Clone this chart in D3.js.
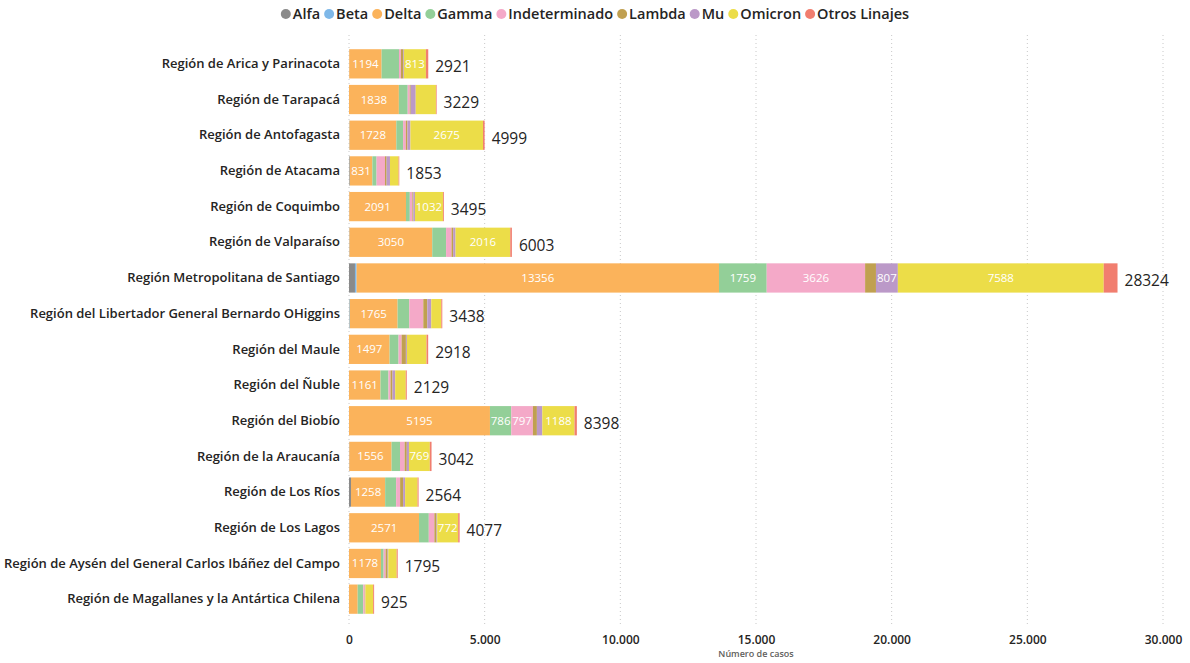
<!DOCTYPE html>
<html>
<head>
<meta charset="utf-8">
<script src="https://d3js.org/d3.v7.min.js"></script>
<style>
  body { margin: 0; background: #fff; font-family: "Open Sans", sans-serif; }
</style>
</head>
<body>
<svg id="chart"></svg>
<script>
// regions (top to bottom)
var regions = [
  "Región de Arica y Parinacota",
  "Región de Tarapacá",
  "Región de Antofagasta",
  "Región de Atacama",
  "Región de Coquimbo",
  "Región de Valparaíso",
  "Región Metropolitana de Santiago",
  "Región del Libertador General Bernardo OHiggins",
  "Región del Maule",
  "Región del Ñuble",
  "Región del Biobío",
  "Región de la Araucanía",
  "Región de Los Ríos",
  "Región de Los Lagos",
  "Región de Aysén del General Carlos Ibáñez del Campo",
  "Región de Magallanes y la Antártica Chilena"
];

var linajes = ["Alfa", "Beta", "Delta", "Gamma", "Indeterminado", "Lambda", "Mu", "Omicron", "Otros Linajes"];
var colores = ["#8a8a8a", "#7fb8e8", "#fbb35b", "#93cf98", "#f4a9c8", "#c0a050", "#bb99c8", "#ecdd48", "#f17e6f"];

// values per lineage, one per region (same order as regions)
var alfa      = [5, 0, 0, 25, 10, 12, 220, 0, 0, 0, 0, 14, 74, 10, 0, 0];
var beta      = [3, 0, 16, 5, 0, 6, 60, 27, 0, 0, 0, 0, 0, 0, 0, 0];
var delta     = [1194, 1838, 1728, 831, 2091, 3050, 13356, 1765, 1497, 1161, 5195, 1556, 1258, 2571, 1178, 320];
var gamma     = [640, 326, 250, 155, 140, 510, 1759, 430, 330, 295, 786, 310, 405, 360, 98, 205];
var indet     = [70, 74, 100, 310, 95, 200, 3626, 516, 110, 74, 797, 170, 147, 205, 74, 55];
var lambda    = [80, 37, 60, 61, 35, 61, 400, 147, 160, 74, 147, 80, 110, 80, 74, 15];
var mu        = [30, 184, 110, 123, 60, 88, 807, 147, 37, 98, 199, 80, 74, 25, 25, 10];
var omicron   = [813, 745, 2675, 318, 1032, 2016, 7588, 369, 723, 390, 1188, 769, 459, 772, 309, 285];
var otros     = [86, 25, 60, 25, 32, 60, 508, 37, 61, 37, 86, 63, 37, 54, 37, 35];

var series = [alfa, beta, delta, gamma, indet, lambda, mu, omicron, otros];

var xTicks = [0, 5000, 10000, 15000, 20000, 25000, 30000];

var width = 1190, height = 663;
var margin = {top: 46, right: 27, bottom: 46, left: 349};

var svg = d3.select("#chart").attr("width", width).attr("height", height);

var rows = regions.map(function(r, i) {
  var o = {region: r};
  linajes.forEach(function(l, j) { o[l] = series[j][i]; });
  o.total = d3.sum(series, function(s) { return s[i]; });
  return o;
});

var stack = d3.stack().keys(linajes)(rows);

var x = d3.scaleLinear().domain([0, 30000]).range([margin.left, 1163]);
var y = d3.scaleBand().domain(regions).range([margin.top, height - margin.bottom]).paddingInner(0.18).paddingOuter(0.09);
var color = d3.scaleOrdinal().domain(linajes).range(colores);

// grid lines
svg.append("g")
  .selectAll("line")
  .data(xTicks)
  .enter()
  .append("line")
  .attr("x1", function(d) { return x(d); })
  .attr("x2", function(d) { return x(d); })
  .attr("y1", 35)
  .attr("y2", 624)
  .attr("stroke", "#c8c8c8")
  .attr("stroke-width", 1)
  .attr("stroke-dasharray", "1,3");

// bars
var layers = svg.append("g")
  .selectAll("g")
  .data(stack)
  .enter()
  .append("g")
  .attr("fill", function(d) { return color(d.key); });

layers.selectAll("rect")
  .data(function(d) { return d; })
  .enter()
  .append("rect")
  .attr("x", function(d) { return x(d[0]); })
  .attr("y", function(d) { return y(d.data.region); })
  .attr("width", function(d) { return Math.max(0, x(d[1]) - x(d[0])); })
  .attr("height", y.bandwidth());

// segment labels (only where they fit)
layers.each(function(layer) {
  d3.select(this).selectAll("text.seg")
    .data(layer)
    .enter()
    .append("text")
    .attr("class", "seg")
    .attr("x", function(d) { return (x(d[0]) + x(d[1])) / 2; })
    .attr("y", function(d) { return y(d.data.region) + y.bandwidth() / 2; })
    .attr("dy", "0.35em")
    .attr("text-anchor", "middle")
    .attr("fill", "#fff")
    .attr("font-size", "11.5px")
    .text(function(d) { return d[1] - d[0]; })
    .each(function(d) {
      var w = x(d[1]) - x(d[0]);
      if (this.getComputedTextLength() + 1 > w) d3.select(this).remove();
    });
});

// totals
svg.append("g")
  .selectAll("text")
  .data(rows)
  .enter()
  .append("text")
  .attr("x", function(d) { return x(d.total) + 7; })
  .attr("y", function(d) { return y(d.region) + y.bandwidth() / 2 + 3; })
  .attr("dy", "0.35em")
  .attr("fill", "#252423")
  .attr("font-size", "15.5px")
  .text(function(d) { return d.total; });

// y axis labels
var yAxis = svg.append("g")
  .attr("transform", "translate(" + (margin.left - 9) + ",0)")
  .call(d3.axisLeft(y).tickSize(0).tickPadding(0));
yAxis.select(".domain").remove();
yAxis.selectAll("text")
  .attr("font-family", "Open Sans, sans-serif")
  .attr("font-size", "13px")
  .attr("font-weight", "600")
  .attr("fill", "#252423");

// x axis
var fmt = function(d) { return d3.format(",")(d).replace(/,/g, "."); };
var xAxis = svg.append("g")
  .attr("transform", "translate(0," + 626 + ")")
  .call(d3.axisBottom(x).tickValues(xTicks).tickSize(0).tickPadding(9).tickFormat(fmt));
xAxis.select(".domain").remove();
xAxis.selectAll("text")
  .attr("font-family", "Open Sans, sans-serif")
  .attr("font-size", "12px")
  .attr("font-weight", "600")
  .attr("fill", "#252423");

svg.append("text")
  .attr("x", (margin.left + 1163) / 2)
  .attr("y", 657)
  .attr("text-anchor", "middle")
  .attr("font-size", "9px")
  .attr("font-weight", "600")
  .attr("fill", "#605e5c")
  .text("Número de casos");

// legend
var legend = svg.append("g");
var lx = 0;
linajes.forEach(function(l) {
  var g = legend.append("g").attr("transform", "translate(" + lx + ",14)");
  g.append("circle").attr("r", 5).attr("fill", color(l));
  var t = g.append("text")
    .attr("x", 7)
    .attr("dy", "0.35em")
    .attr("font-size", "14.5px")
    .attr("font-weight", "600")
    .attr("fill", "#252423")
    .text(l);
  lx += 7 + t.node().getComputedTextLength() + 9;
});
// center legend
var lb = legend.node().getBBox();
legend.attr("transform", "translate(" + ((width - lb.width) / 2 - lb.x) + ",0)");
</script>
</body>
</html>
